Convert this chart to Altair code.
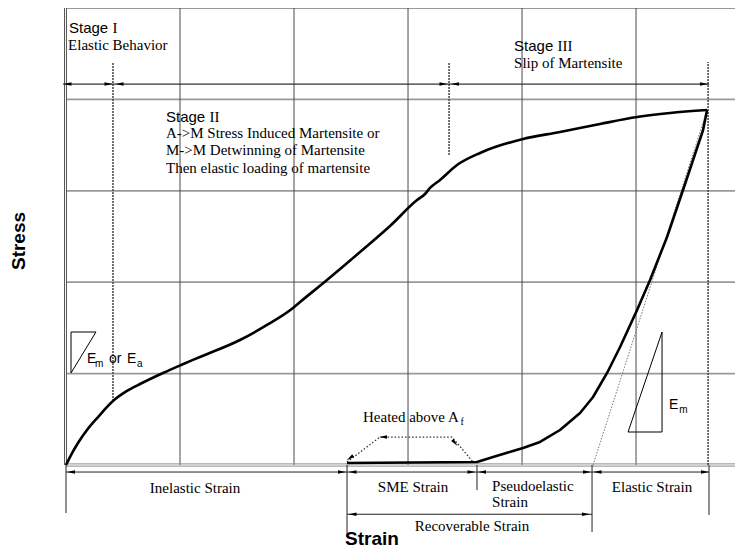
import altair as alt
import pandas as pd

# ---- units: 1 x-unit = one vertical grid cell (strain), 1 y-unit = one horizontal grid cell (stress)
X_MAX = 5.868
Y_MAX = 5.0

# ---- loading / unloading curves
loading_x = [0, 0.044, 0.105, 0.184, 0.281, 0.412, 0.535, 0.649, 0.851, 1.009, 1.175, 1.526, 1.763,
             1.991, 2.053, 2.289, 2.579, 2.842, 3.079, 3.149, 3.193, 3.281, 3.430, 3.632, 4.009,
             4.333, 4.684, 5.009, 5.298, 5.623]
loading_y = [0, 0.109, 0.241, 0.383, 0.525, 0.700, 0.810, 0.886, 1.007, 1.094, 1.182, 1.368, 1.532,
             1.718, 1.783, 2.024, 2.330, 2.615, 2.899, 2.965, 3.031, 3.118, 3.282, 3.414, 3.567,
             3.643, 3.731, 3.807, 3.851, 3.884]
unloading_x = [5.623, 5.588, 5.500, 5.412, 5.272, 5.123, 5.009, 4.860, 4.746, 4.623, 4.509, 4.333,
               4.158, 4.009, 3.921, 3.746, 3.605, 2.465]
unloading_y = [3.884, 3.665, 3.337, 3.009, 2.495, 2.024, 1.696, 1.291, 1.007, 0.744, 0.569, 0.383,
               0.252, 0.186, 0.153, 0.088, 0.033, 0.022]

# elastic slope guide (dotted)
elastic_x = [4.623, 5.623]
elastic_y = [0.0, 3.884]

# heated above Af path (dotted)
heated_x = [2.465, 2.754, 3.386, 3.570]
heated_y = [0.033, 0.306, 0.306, 0.033]

# modulus triangles
tri_left_x = [0.044, 0.044, 0.263, 0.044]
tri_left_y = [1.007, 1.455, 1.455, 1.007]
tri_right_x = [4.930, 5.228, 5.228, 4.930]
tri_right_y = [0.361, 1.455, 0.361, 0.361]

# grid
grid_x = [1, 2, 3, 4, 5]
grid_y = [1, 2, 3, 4, 5]

# stage boundaries (dotted verticals)
stage_x = [0.412, 3.360, 5.632]
stage_top = [4.409, 4.409, 4.409]
stage_bottom = [0.70, 3.392, 0.0]
stage_line = [-0.026, 5.640, 4.168]          # x, x2, y

# strain bands below the axis
band_line = [0.0, 5.640, -0.077]
recov_line = [2.465, 4.614, -0.539]
tick_x = [0.0, 2.465, 3.605, 4.614, 5.640]
tick_bottom = [-0.525, -0.788, -0.274, -0.733, -0.547]

# arrowheads: x, y, direction angle (deg, clockwise from right)
arrow_x = [0.013, 0.373, 0.469, 3.311, 3.412, 5.596,
           0.044, 2.421, 2.513, 3.557, 3.649, 4.570, 4.662, 5.605,
           2.513, 4.561,
           2.491, 2.781, 3.412]
arrow_y = [4.168, 4.168, 4.168, 4.168, 4.168, 4.168,
           -0.077, -0.077, -0.077, -0.077, -0.077, -0.077, -0.077, -0.077,
           -0.539, -0.539,
           0.077, 0.306, 0.241]
arrow_a = [180, 0, 180, 0, 180, 0,
           180, 0, 180, 0, 180, 0, 180, 0,
           180, 0,
           143, 180, 50]

# ---- texts
stage_words = ["Stage", "Stage", "Stage"]
stage_nums = ["I", "II", "III"]
stage_tx = [0.026, 0.877, 3.930]
stage_ty = [4.781, 3.807, 4.584]

serif_left = ["Elastic Behavior", "A->M Stress Induced Martensite or", "M->M Detwinning of Martensite",
              "Then elastic loading of martensite", "Slip of Martensite", "Heated above A",
              "Pseudoelastic", "Strain"]
serif_left_x = [0.018, 0.877, 0.877, 0.877, 3.930, 2.605, 3.737, 3.737]
serif_left_y = [4.595, 3.632, 3.446, 3.249, 4.398, 0.525, -0.230, -0.405]

serif_center = ["Inelastic Strain", "SME Strain", "Elastic Strain", "Recoverable Strain"]
serif_center_x = [1.132, 3.044, 5.140, 3.561]
serif_center_y = [-0.252, -0.241, -0.241, -0.667]

sans_main = ["E", "or", "E", "E"]
sans_main_x = [0.184, 0.377, 0.535, 5.289]
sans_main_y = [1.160, 1.160, 1.160, 0.656]
sans_sub = ["m", "a", "m"]
sans_sub_x = [0.254, 0.623, 5.380]
sans_sub_y = [1.105, 1.105, 0.602]
serif_sub = ["f"]
serif_sub_x = [3.46]
serif_sub_y = [0.47]

x_title = ["Strain"]
x_title_pos = [2.684, -0.880]
y_title = ["Stress"]
y_title_pos = [-0.408, 2.451]

SERIF = "Liberation Serif"
SANS = "Liberation Sans"

xs = alt.Scale(domain=[0, X_MAX], nice=False, zero=False)
ys = alt.Scale(domain=[0, Y_MAX], nice=False, zero=False)


def X(f="x"):
    return alt.X(f"{f}:Q", scale=xs, axis=None)


def Y(f="y"):
    return alt.Y(f"{f}:Q", scale=ys, axis=None)


def path_df(groups):
    rows = []
    for g, (xx, yy) in enumerate(groups):
        for i, (a, b) in enumerate(zip(xx, yy)):
            rows.append({"x": a, "y": b, "i": i, "g": g})
    return pd.DataFrame(rows)


def rules(df, **kw):
    return alt.Chart(df).mark_rule(**kw).encode(x=X("x"), x2="x2:Q", y=Y("y"), y2="y2:Q")


def texts(labels, xx, yy, **kw):
    df = pd.DataFrame({"t": labels, "x": xx, "y": yy})
    return alt.Chart(df).mark_text(color="black", **kw).encode(x=X(), y=Y(), text="t:N")


# grid
vgrid = rules(pd.DataFrame({"x": grid_x, "x2": grid_x, "y": [0] * 5, "y2": [Y_MAX] * 5}),
              color="#4a4a4a", strokeWidth=1)
hgrid = rules(pd.DataFrame({"x": [0] * 5, "x2": [X_MAX] * 5, "y": grid_y, "y2": grid_y}),
              color="#999999", strokeWidth=1.8)
left_border = rules(pd.DataFrame({"x": [-0.013, 0.004], "x2": [-0.013, 0.004],
                                  "y": [0, 0], "y2": [Y_MAX, Y_MAX]}), color="#555555", strokeWidth=1)
bottom_border = rules(pd.DataFrame({"x": [0, 0], "x2": [X_MAX, X_MAX],
                                    "y": [0.012, -0.012], "y2": [0.012, -0.012]}),
                      color="#8a8a8a", strokeWidth=1)

# curves
loading = alt.Chart(path_df([(loading_x, loading_y)])).mark_line(
    color="black", strokeWidth=2.6, interpolate="monotone", strokeJoin="round"
).encode(x=X(), y=Y(), order="i:Q", detail="g:N")
unloading = alt.Chart(path_df([(unloading_x, unloading_y)])).mark_line(
    color="black", strokeWidth=2.6, interpolate="linear", strokeJoin="round"
).encode(x=X(), y=Y(), order="i:Q", detail="g:N")

thin_paths = alt.Chart(path_df([(tri_left_x, tri_left_y), (tri_right_x, tri_right_y)])).mark_line(
    color="black", strokeWidth=1
).encode(x=X(), y=Y(), order="i:Q", detail="g:N")

dotted_paths = alt.Chart(path_df([(heated_x, heated_y)])).mark_line(
    color="#333333", strokeWidth=1.3, strokeDash=[1.5, 2]
).encode(x=X(), y=Y(), order="i:Q", detail="g:N")

elastic_guide = alt.Chart(path_df([(elastic_x, elastic_y)])).mark_line(
    color="#777777", strokeWidth=1, strokeDash=[1.5, 1.5]
).encode(x=X(), y=Y(), order="i:Q", detail="g:N")

stage_dots = rules(pd.DataFrame({"x": stage_x, "x2": stage_x, "y": stage_bottom, "y2": stage_top}),
                   color="#444444", strokeWidth=1.5, strokeDash=[2, 1])

stage_arrow = rules(pd.DataFrame({"x": [stage_line[0]], "x2": [stage_line[1]],
                                  "y": [stage_line[2]], "y2": [stage_line[2]]}),
                    color="#333333", strokeWidth=1.2)

band_rules = rules(pd.DataFrame({"x": [band_line[0], recov_line[0]], "x2": [band_line[1], recov_line[1]],
                                 "y": [band_line[2], recov_line[2]], "y2": [band_line[2], recov_line[2]]}),
                   color="#222222", strokeWidth=1)
ticks = rules(pd.DataFrame({"x": tick_x, "x2": tick_x, "y": [0] * 5, "y2": tick_bottom}),
              color="#222222", strokeWidth=1)

ARROW = "M-1,-0.42L1,0L-1,0.42Z"
arrows = alt.Chart(pd.DataFrame({"x": arrow_x, "y": arrow_y, "a": arrow_a})).mark_point(
    shape=ARROW, filled=True, size=64, color="black", opacity=1, strokeWidth=0
).encode(x=X(), y=Y(), angle=alt.Angle("a:Q", scale=None))

# texts
t_stage = texts(stage_words, stage_tx, stage_ty, font=SANS, fontSize=15, align="left", baseline="middle")
t_stage_num = texts(stage_nums, stage_tx, stage_ty, font=SERIF, fontSize=15, align="left",
                    baseline="middle", dx=43.5)
t_serif_left = texts(serif_left, serif_left_x, serif_left_y, font=SERIF, fontSize=15, align="left",
                     baseline="middle")
t_serif_center = texts(serif_center, serif_center_x, serif_center_y, font=SERIF, fontSize=15,
                       align="center", baseline="middle")
t_sans = texts(sans_main, sans_main_x, sans_main_y, font=SANS, fontSize=14, align="left", baseline="middle")
t_sans_sub = texts(sans_sub, sans_sub_x, sans_sub_y, font=SANS, fontSize=10, align="left", baseline="middle")
t_serif_sub = texts(serif_sub, serif_sub_x, serif_sub_y, font=SERIF, fontSize=10, align="left",
                    baseline="middle")
t_xtitle = texts(x_title, [x_title_pos[0]], [x_title_pos[1]], font=SANS, fontSize=19, fontWeight="bold",
                 align="center", baseline="alphabetic")
t_ytitle = texts(y_title, [y_title_pos[0]], [y_title_pos[1]], font=SANS, fontSize=19, fontWeight="bold",
                 align="center", baseline="middle", angle=270)

chart = alt.layer(
    hgrid, vgrid, left_border, bottom_border,
    elastic_guide, stage_dots, stage_arrow, band_rules, ticks,
    thin_paths, dotted_paths, loading, unloading, arrows,
    t_stage, t_stage_num, t_serif_left, t_serif_center, t_sans, t_sans_sub, t_serif_sub,
    t_xtitle, t_ytitle,
).properties(
    width=669, height=457,
    padding={"left": 58, "top": 0, "right": 0, "bottom": 86},
    autosize=alt.AutoSizeParams(type="none"),
    background="white",
).configure_view(stroke=None)

chart.save("out.html", embed_options={"renderer": "svg", "actions": False})
